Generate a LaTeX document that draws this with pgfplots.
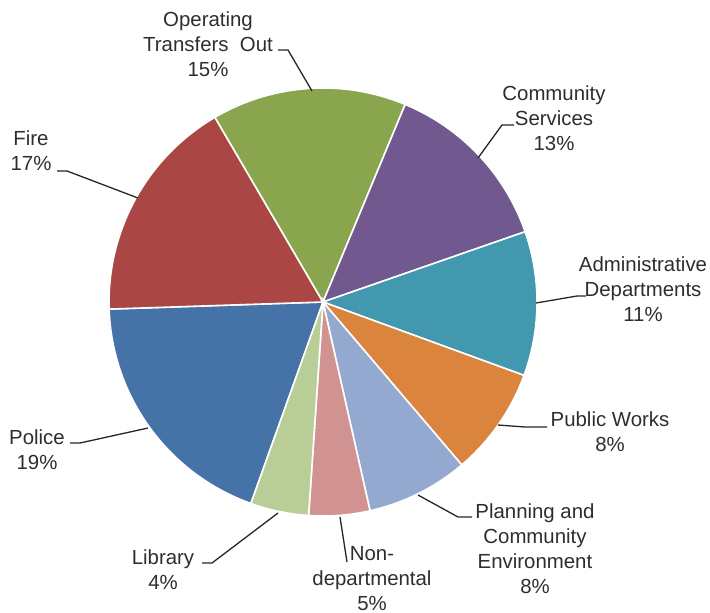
\documentclass[border=0pt]{standalone}
\usepackage{pgfplots}
\pgfplotsset{compat=1.18}
\usepackage{fontspec}
\setmainfont{Liberation Sans}

\definecolor{cPolice}{HTML}{4572A7}
\definecolor{cFire}{HTML}{AA4643}
\definecolor{cOper}{HTML}{89A54E}
\definecolor{cComm}{HTML}{71588F}
\definecolor{cAdmin}{HTML}{4198AF}
\definecolor{cPW}{HTML}{DB843D}
\definecolor{cPlan}{HTML}{93A9CF}
\definecolor{cNon}{HTML}{D19392}
\definecolor{cLib}{HTML}{B9CD96}
\definecolor{txt}{HTML}{2E2E2E}

% pie geometry in pixel units (y pointing up, origin top-left)
\def\cx{323}\def\cy{-302}\def\rr{214}
\def\angStart{250.3}

% one slice: share in percent, colour; slices run clockwise
\newcommand\slice[2]{%
  \pgfmathsetmacro\angEnd{\angStart-3.6*#1}%
  \edef\doslice{\noexpand\addplot[fill=#2, draw=white, line width=0.8pt,
      domain=\angEnd:\angStart, samples=80]
    ({\cx+\rr*cos(x)},{\cy+\rr*sin(x)}) -- (axis cs:\cx,\cy) -- cycle;}%
  \doslice
  \global\let\angStart\angEnd
}

\begin{document}
\begin{tikzpicture}
\begin{axis}[
    name=ax,
    hide axis,
    scale only axis,
    width=355pt, height=306pt,
    xmin=0, xmax=710, ymin=-612, ymax=0,
    clip=false,
  ]
  \slice{19.0}{cPolice}
  \slice{17.1}{cFire}
  \slice{14.7}{cOper}
  \slice{13.4}{cComm}
  \slice{10.9}{cAdmin}
  \slice{8.2}{cPW}
  \slice{7.7}{cPlan}
  \slice{4.6}{cNon}
  \slice{4.4}{cLib}

  % leader lines
  \begin{scope}[draw=black!85, line width=0.65pt]
    \draw (axis cs:278,-50) -- (axis cs:288,-50) -- (axis cs:312,-91);
    \draw (axis cs:57,-171) -- (axis cs:67,-171) -- (axis cs:138,-198);
    \draw (axis cs:514,-125) -- (axis cs:502,-125) -- (axis cs:478,-158);
    \draw (axis cs:536,-303) -- (axis cs:577,-296) -- (axis cs:586,-296);
    \draw (axis cs:498,-425) -- (axis cs:525,-427) -- (axis cs:547,-427);
    \draw (axis cs:418,-495) -- (axis cs:458,-517) -- (axis cs:472,-517);
    \draw (axis cs:340,-517) -- (axis cs:347,-562);
    \draw (axis cs:202,-563) -- (axis cs:212,-563) -- (axis cs:278,-513);
    \draw (axis cs:70,-443) -- (axis cs:80,-443) -- (axis cs:148,-428);
  \end{scope}

  % labels
  \begin{scope}[every node/.style={align=center, inner sep=0pt, text=txt,
      font=\fontsize{10.2}{12.5}\selectfont}]
    \node at (axis cs:208,-44) {Operating\\Transfers\ \ Out\\15\%};
    \node at (axis cs:31,-151) {Fire\\17\%};
    \node at (axis cs:554,-118) {Community\\Services\\13\%};
    \node at (axis cs:643,-289) {Administrative\\Departments\\11\%};
    \node at (axis cs:610,-432) {Public Works\\8\%};
    \node at (axis cs:535,-549) {Planning and\\Community\\Environment\\8\%};
    \node at (axis cs:372,-579) {Non-\\departmental\\5\%};
    \node at (axis cs:163,-570) {Library\\4\%};
    \node at (axis cs:37,-450) {Police\\19\%};
  \end{scope}
\end{axis}
\pgfresetboundingbox
\path (ax.south west) rectangle (ax.north east);
\end{tikzpicture}
\end{document}
